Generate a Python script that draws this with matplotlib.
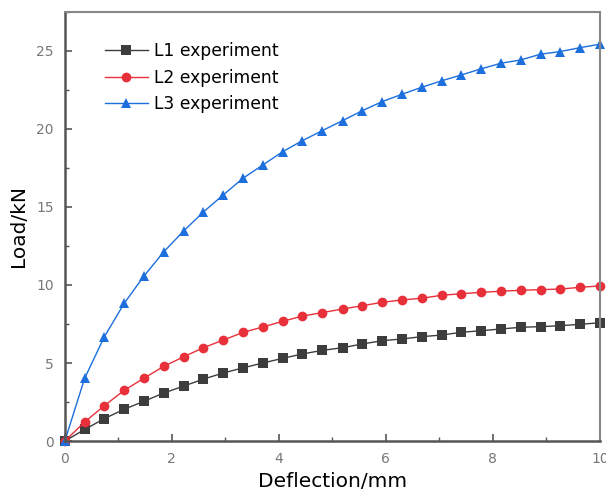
"""
Load-deflection curves for L1/L2/L3 experiments.
"""
import matplotlib
matplotlib.use('Agg')
import matplotlib.pyplot as plt
from matplotlib.ticker import MultipleLocator

deflection = [0.00, 0.37, 0.74, 1.11, 1.48, 1.85, 2.22, 2.59, 2.96, 3.33,
              3.70, 4.07, 4.44, 4.81, 5.19, 5.56, 5.93, 6.30, 6.67, 7.04,
              7.41, 7.78, 8.15, 8.52, 8.89, 9.26, 9.63, 10.00]

load_l1 = [0.00, 0.74, 1.44, 2.04, 2.55, 3.08, 3.52, 3.97, 4.36, 4.69,
           5.00, 5.30, 5.58, 5.81, 5.98, 6.22, 6.43, 6.54, 6.69, 6.79,
           6.97, 7.07, 7.18, 7.29, 7.33, 7.39, 7.48, 7.58]

load_l2 = [0.00, 1.22, 2.27, 3.25, 4.03, 4.79, 5.40, 5.98, 6.47, 6.96,
           7.31, 7.67, 8.01, 8.23, 8.46, 8.67, 8.89, 9.04, 9.15, 9.34,
           9.44, 9.53, 9.60, 9.66, 9.70, 9.74, 9.85, 9.94]

load_l3 = [0.00, 4.02, 6.69, 8.83, 10.58, 12.13, 13.46, 14.68, 15.77, 16.84,
           17.69, 18.54, 19.25, 19.89, 20.53, 21.17, 21.75, 22.22, 22.67, 23.08,
           23.46, 23.85, 24.21, 24.42, 24.79, 24.96, 25.21, 25.43]

series = [('L1 experiment', load_l1, '#3d3d3d', 's', 6.5),
          ('L2 experiment', load_l2, '#e8303a', 'o', 7),
          ('L3 experiment', load_l3, '#1c6fdc', '^', 7.5)]

fig = plt.figure(figsize=(6.06, 4.95), dpi=100)
ax = fig.add_axes([0.107, 0.109, 0.883, 0.867])

for label, vals, color, marker, ms in series:
    ax.plot(deflection, vals, color=color, linewidth=1.0, marker=marker,
            markersize=ms, markeredgewidth=0, label=label, clip_on=False)

ax.set_xlim(0, 10)
ax.set_ylim(0, 27.5)
ax.xaxis.set_major_locator(MultipleLocator(2))
ax.xaxis.set_minor_locator(MultipleLocator(1))
ax.yaxis.set_major_locator(MultipleLocator(5))
ax.yaxis.set_minor_locator(MultipleLocator(2.5))
ax.tick_params(which='both', direction='in', colors='#555555',
               labelcolor='#777777', labelsize=10)
ax.tick_params(which='major', length=5, width=1.2)
ax.tick_params(which='minor', length=3, width=1.0)
ax.tick_params(axis='y', pad=8)
ax.tick_params(axis='x', pad=8)

for side in ('left', 'bottom'):
    ax.spines[side].set_color('#555555')
    ax.spines[side].set_linewidth(1.8)
for side in ('top', 'right'):
    ax.spines[side].set_color('#888888')
    ax.spines[side].set_linewidth(1.5)

ax.set_xlabel('Deflection/mm', fontsize=14.5, labelpad=4)
ax.set_ylabel('Load/kN', fontsize=14.5, labelpad=6)

ax.legend(loc='upper left', bbox_to_anchor=(0.062, 0.945), frameon=False,
          fontsize=12.3, handlelength=2.5, handletextpad=0.4,
          labelspacing=0.48, borderaxespad=0)

fig.savefig('out.png', dpi=100)
plt.close(fig)
